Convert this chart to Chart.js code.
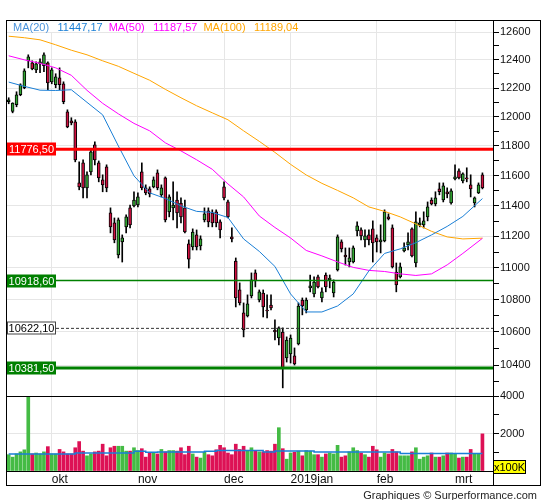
<!DOCTYPE html>
<html>
<head>
<meta charset="utf-8">
<title>DAX</title>
<script src="https://cdn.jsdelivr.net/npm/chart.js@4.4.1/dist/chart.umd.min.js"></script>
<style>
  body { margin: 0; width: 545px; height: 500px; position: relative; background: #fff; overflow: hidden;
         font-family: "Liberation Sans", Arial, sans-serif; }
  canvas { position: absolute; left: 0; }
  #price { top: 0; }
  #volume { top: 380px; }
  .rule { position: absolute; background: #000; }
  #unit { position: absolute; left: 493px; top: 460px; width: 31px; height: 12px; background: #ff0;
          border: 1px solid #000; font-size: 11px; line-height: 12px; text-align: center; color: #000; }
  #credit { position: absolute; right: 8px; top: 489px; font-size: 11px; line-height: 13px; color: #222; }
</style>
</head>
<body>
<canvas id="price" width="545" height="412"></canvas>
<canvas id="volume" width="545" height="120"></canvas>
<div class="rule" style="left:6px;top:20px;width:535px;height:1px"></div>
<div class="rule" style="left:6px;top:20px;width:1px;height:466px"></div>
<div class="rule" style="left:540px;top:20px;width:1px;height:466px"></div>
<div class="rule" style="left:6px;top:485px;width:535px;height:1px"></div>
<div class="rule" style="left:493px;top:20px;width:1px;height:466px"></div>
<div class="rule" style="left:6px;top:396px;width:487px;height:1px"></div>
<div class="rule" style="left:6px;top:471px;width:487px;height:1px"></div>
<div id="unit">x100K</div>
<div id="credit">Graphiques © Surperformance.com</div>
<script>
// daily candles, index 0 = first session shown (mid September 2018)
var openP = [12104,12036,12083,12153,12202,12393,12379,12329,12372,12358,
  12379,12244,12223,12272,12230,12034,11972,11965,11551,11685,
  11518,11625,11807,11685,11571,11658,11353,11288,11081,11165,
  11262,11386,11399,11405,11625,11518,11511,11525,11618,11472,
  11585,11360,11386,11438,11418,11386,11152,11133,11210,11139,
  11307,11366,11353,11360,11294,11525,11425,11197,11042,10860,
  10717,10698,10823,10967,10797,10841,10735,10766,10612,10563,
  10600,10443,10467,10455,10527,10797,10735,10873,10835,10942,
  10810,10954,10923,10841,10986,11165,11081,11036,11036,11236,
  11242,11178,11210,11249,11191,11165,11171,11327,11255,10973,
  10942,11107,11146,11249,11030,11275,11275,11327,11438,11412,
  11511,11438,11492,11418,11578,11631,11565,11585,11538,11418,
  11485,11605];
var highP = [12132,12097,12174,12230,12336,12436,12393,12386,12407,12450,
  12386,12343,12301,12343,12244,12048,11993,11979,11692,11705,
  11625,11773,11828,11698,11605,11672,11386,11320,11320,11210,
  11340,11405,11492,11485,11685,11538,11525,11591,11638,11538,
  11591,11472,11558,11492,11452,11438,11178,11249,11242,11204,
  11386,11386,11373,11373,11307,11558,11438,11255,11062,10904,
  10779,10829,10967,10986,10860,10860,10829,10829,10674,10631,
  10625,10570,10582,10503,10779,10810,10810,10954,10942,10954,
  10873,10967,10954,10923,11210,11178,11126,11126,11139,11294,
  11255,11242,11242,11301,11210,11275,11373,11347,11275,11030,
  11030,11159,11223,11255,11360,11320,11360,11425,11452,11492,
  11551,11551,11518,11511,11672,11645,11618,11652,11605,11458,
  11551,11618];
var lowP = [12090,12027,12069,12146,12195,12343,12329,12308,12308,12315,
  12188,12230,12202,12188,12090,11924,11944,11692,11505,11452,
  11452,11605,11672,11558,11492,11492,11223,11159,11062,11036,
  11223,11255,11392,11392,11505,11472,11458,11518,11505,11458,
  11294,11327,11307,11255,11288,11223,10998,11113,11113,11113,
  11294,11262,11262,11262,11191,11438,11320,11165,10754,10766,
  10570,10692,10810,10879,10785,10692,10686,10735,10551,10521,
  10264,10418,10412,10400,10521,10705,10717,10848,10816,10873,
  10785,10848,10873,10816,10979,11100,11017,11005,11030,11204,
  11178,11133,11146,11036,11100,11094,11165,11307,10998,10848,
  10935,11100,11113,11068,11005,11262,11255,11301,11405,11399,
  11472,11425,11452,11410,11571,11578,11551,11558,11458,11392,
  11480,11511];
var closeP = [12118,12095,12153,12223,12322,12421,12336,12372,12386,12436,
  12237,12329,12279,12223,12104,11930,11958,11705,11525,11518,
  11605,11759,11705,11585,11538,11518,11262,11178,11307,11191,
  11327,11275,11438,11458,11518,11485,11478,11571,11518,11518,
  11307,11458,11405,11353,11327,11229,11055,11229,11133,11184,
  11347,11294,11288,11288,11242,11452,11327,11184,10810,10779,
  10612,10773,10923,10916,10848,10754,10729,10748,10600,10625,
  10381.5,10551,10563,10406,10760,10760,10797,10885,10910,10879,
  10848,10879,10935,10910,11197,11120,11068,11062,11126,11269,
  11204,11204,11178,11159,11165,11178,11360,11314,11005,10891,
  11005,11126,11165,11075,11294,11288,11301,11392,11412,11452,
  11492,11531,11478,11498,11591,11585,11611,11578,11511,11452,
  11538,11518];
// volume in units of 100K
var volume = [870,740,910,1020,1130,4000,910,960,910,1020,
  1300,910,910,1150,1020,910,910,1240,1570,1060,
  810,910,1020,1060,1430,810,1240,1320,1320,1320,
  1060,1060,1240,1090,1190,740,960,960,910,1150,
  1020,1090,1090,1060,1240,870,1320,910,740,690,
  1000,870,810,1130,1370,1240,960,870,1430,1150,
  1320,1060,1240,1060,1020,1020,1090,1060,1430,2310,
  1190,630,960,1000,1060,810,1090,1060,870,870,
  740,910,960,910,1370,740,810,1020,1240,1090,
  960,870,740,1320,1130,740,960,910,1150,1020,
  810,810,810,1020,1240,630,740,810,960,740,
  740,810,960,960,910,690,740,740,1150,910,
  910,1980];
var volMaIdx = [0, 17, 32, 35, 38, 50, 53, 65, 68, 78, 100, 121];
var volMa = [910, 960, 1060, 1000, 1020, 1060, 1090, 1020, 1070, 1020, 940, 940];

// moving averages read at these candle positions
var maIdx = [0,4,8,12,16,20,24,28,32,36,40,44,48,52,56,60,64,68,72,76,80,84,88,92,96,100,104,108,112,116,121];
var ma20 = [12242,12212,12185,12183,12188,12100,12013,11800,11598,11485,11448,11399,11363,11356,11323,
  11184,11104,11008,10835,10723,10723,10760,10835,10980,11091,11120,11160,11210,11265,11330,11447];
var ma50 = [12429,12400,12375,12343,12290,12184,12093,12020,11954,11903,11821,11766,11706,11642,11544,
  11458,11333,11258,11190,11110,11075,11037,11002,10983,10976,10961,10951,10961,11018,11091,11188];
var ma100 = [12570,12559,12544,12508,12469,12436,12393,12354,12304,12255,12191,12132,12076,12027,11979,
  11903,11831,11756,11675,11604,11548,11501,11452,11392,11363,11327,11281,11233,11197,11184,11189];
var maNames = ['MA(20)', 'MA(50)', 'MA(100)'];
var maLast = [11447.17, 11187.57, 11189.04];

var levels = [11776.5, 10918.6, 10622.1, 10381.5];

var monthAt = [11, 33, 55, 72, 94, 114];
var monthNames = ['okt', 'nov', 'dec', '2019jan', 'feb', 'mrt'];
var priceTicks = [10300,10400,10500,10600,10700,10800,10900,11000,11100,11200,11300,11400,
  11500,11600,11700,11800,11900,12000,12100,12200,12300,12400,12500,12600];
var volTicks = [0, 1000, 2000, 3000, 4000];

// ---- styling ----
var FONT = '"Liberation Sans", Arial, sans-serif';
var GRID = '#e6e6e6';
var CLEAR = 'rgba(0,0,0,0)';
var UP = '#32a532', DOWN = '#d01040';
var VOL_UP = '#44bb44', VOL_DOWN = '#dd1155';
var maColors = ['#1a7fd6', '#ff00ff', '#ffa500'];
var maLabelColors = ['#4a93dc', '#ff00ff', '#ffa500'];
var levelLine = ['#ff0000', '#008000', '#333333', '#008000'];
var levelWidth = [3, 1.5, 1, 3];
var levelDash = [[], [], [3, 2], []];
var levelBox = ['#ff0000', '#008000', '#ffffff', '#008000'];
var levelText = ['#ffffff', '#ffffff', '#000000', '#ffffff'];
var X_MIN = -0.69, X_MAX = 123.7;
var P_MIN = 10216, P_MAX = 12688;

Chart.defaults.font.family = FONT;
Chart.defaults.font.size = 11;
Chart.defaults.color = '#000';

function comma(v) { return v.toFixed(2).replace('.', ','); }

var idx = openP.map(function (_, i) { return i; });
var up = idx.map(function (i) { return closeP[i] >= openP[i]; });

var levelSets = levels.map(function (v, k) {
  return {
    type: 'line', order: 0,
    data: [{ x: X_MIN, y: v }, { x: X_MAX, y: v }],
    borderColor: levelLine[k], borderWidth: levelWidth[k], borderDash: levelDash[k],
    pointRadius: 0
  };
});
var maSets = [ma20, ma50, ma100].map(function (arr, k) {
  return {
    type: 'line', order: 1,
    data: arr.map(function (v, j) { return { x: maIdx[j], y: v }; }),
    borderColor: maColors[k], borderWidth: 1, pointRadius: 0
  };
});
var bodySet = {
  type: 'bar', order: 2, grouped: false,
  data: idx.map(function (i) { return { x: i, y: [openP[i], closeP[i]] }; }),
  backgroundColor: idx.map(function (i) { return up[i] ? UP : DOWN; }),
  borderColor: '#000', borderWidth: 1, borderSkipped: false, barThickness: 3
};
var wickSet = {
  type: 'bar', order: 3, grouped: false,
  data: idx.map(function (i) { return { x: i, y: [lowP[i], highP[i]] }; }),
  backgroundColor: '#000', barThickness: 1
};

var overlay = {
  id: 'overlay',
  afterDraw: function (chart) {
    var ctx = chart.ctx, y = chart.scales.y;
    ctx.save();
    ctx.font = '11px ' + FONT;
    ctx.textBaseline = 'middle';
    // legend strip
    ctx.fillStyle = '#fff';
    ctx.fillRect(7, 21, 296, 11);
    var x = 13;
    maNames.forEach(function (n, k) {
      ctx.fillStyle = maLabelColors[k];
      ctx.textAlign = 'left';
      ctx.fillText(n, x, 27.5);
      x += ctx.measureText(n).width + 8.5;
      ctx.fillStyle = maColors[k];
      var t = comma(maLast[k]);
      ctx.fillText(t, x, 27.5);
      x += ctx.measureText(t).width + 6;
    });
    // level tags
    levels.forEach(function (v, k) {
      var py = Math.round(y.getPixelForValue(v));
      ctx.fillStyle = levelBox[k];
      ctx.fillRect(7, py - 6.5, 49, 13);
      if (levelBox[k] === '#ffffff') {
        ctx.strokeStyle = '#444';
        ctx.lineWidth = 1;
        ctx.strokeRect(7.5, py - 6, 48, 12);
      }
      ctx.fillStyle = levelText[k];
      ctx.textAlign = 'center';
      ctx.fillText(comma(v), 31.5, py + 0.5);
    });
    ctx.restore();
  }
};

new Chart(document.getElementById('price'), {
  type: 'bar',
  data: { datasets: levelSets.concat(maSets, [bodySet, wickSet]) },
  options: {
    responsive: false, animation: false, events: [],
    layout: { padding: { left: 6, right: 4, top: 20, bottom: 16 } },
    plugins: { legend: { display: false }, tooltip: { enabled: false } },
    scales: {
      x: {
        type: 'linear', min: X_MIN, max: X_MAX, offset: false,
        afterBuildTicks: function (s) { s.ticks = monthAt.map(function (v) { return { value: v }; }); },
        afterFit: function (s) { s.height = 0; },
        ticks: { display: false },
        grid: { color: GRID, offset: false, drawTicks: false },
        border: { display: false }
      },
      y: {
        type: 'logarithmic', position: 'right', min: P_MIN, max: P_MAX,
        afterBuildTicks: function (s) { s.ticks = priceTicks.map(function (v) { return { value: v }; }); },
        afterFit: function (s) { s.width = 48; },
        ticks: {
          autoSkip: false, padding: 1, color: '#111',
          callback: function (v) { return v % 200 === 0 ? String(v) : ''; }
        },
        grid: {
          color: function (c) { return (c.tick && c.tick.value % 200 === 0) ? GRID : CLEAR; },
          tickColor: '#000', tickLength: 6
        },
        border: { display: false }
      }
    }
  },
  plugins: [overlay]
});

new Chart(document.getElementById('volume'), {
  type: 'bar',
  data: {
    datasets: [{
      type: 'line', order: 0, stepped: true,
      data: volMa.map(function (v, j) { return { x: volMaIdx[j], y: v }; }),
      borderColor: '#1a7fd6', borderWidth: 1.5, pointRadius: 0
    }, {
      type: 'bar', order: 1, grouped: false,
      data: idx.map(function (i) { return { x: i, y: volume[i] }; }),
      backgroundColor: idx.map(function (i) { return up[i] ? VOL_UP : VOL_DOWN; }),
      barThickness: 3
    }]
  },
  options: {
    responsive: false, animation: false, events: [],
    layout: { padding: { left: 6, right: 4, top: 16, bottom: 14 } },
    plugins: { legend: { display: false }, tooltip: { enabled: false } },
    scales: {
      x: {
        type: 'linear', min: X_MIN, max: X_MAX, offset: false,
        afterBuildTicks: function (s) { s.ticks = monthAt.map(function (v) { return { value: v }; }); },
        afterFit: function (s) { s.height = 15; },
        ticks: {
          align: 'start', padding: 1, maxRotation: 0, autoSkip: false, color: '#111',
          font: { size: 12 },
          callback: function (v, i) { return monthNames[i]; }
        },
        grid: { color: GRID, offset: false, drawTicks: false },
        border: { display: false }
      },
      y: {
        type: 'linear', position: 'right', min: 0, max: 4000,
        afterBuildTicks: function (s) { s.ticks = volTicks.map(function (v) { return { value: v }; }); },
        afterFit: function (s) { s.width = 48; },
        ticks: {
          autoSkip: false, padding: 1, color: '#111',
          callback: function (v) { return (v === 2000 || v === 4000) ? String(v) : ''; }
        },
        grid: {
          color: function (c) { return (c.tick && c.tick.value === 2000) ? GRID : CLEAR; },
          tickColor: '#000', tickLength: 6
        },
        border: { display: false }
      }
    }
  }
});
</script>
</body>
</html>
